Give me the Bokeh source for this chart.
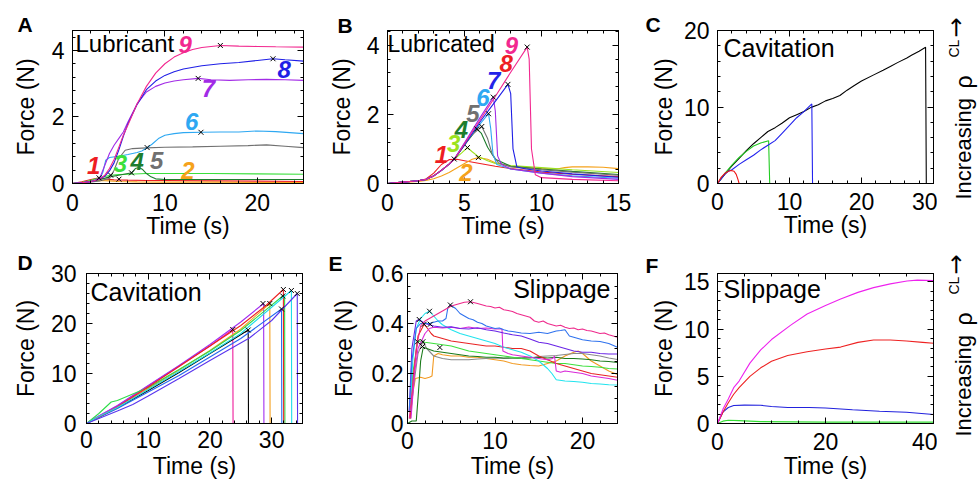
import math
import numpy as np
from bokeh.plotting import figure
from bokeh.models import FixedTicker, LinearAxis, Label, CustomJSTickFormatter, Range1d
from bokeh.layouts import row, column
from bokeh.embed import file_html
from bokeh.resources import INLINE

FONT = "Liberation Sans"

# ---------------- DATA ----------------
# Panel A (Lubricant)
a1_t = [0, 1, 2, 2.87, 3.5, 4.5, 6, 8, 10, 15, 20, 25]
a1_f = [0, 0.05, 0.12, 0.17, 0.14, 0.11, 0.10, 0.09, 0.09, 0.08, 0.07, 0.06]
a2_t = [0, 1, 2, 3, 4, 5, 7, 10, 15, 20, 25]
a2_f = [0, 0.03, 0.07, 0.09, 0.08, 0.06, 0.05, 0.04, 0.04, 0.03, 0.03]
a3_t = [0, 1, 2, 3, 4.1, 5, 6, 8, 10, 15, 20, 25]
a3_f = [0, 0.03, 0.10, 0.18, 0.25, 0.27, 0.28, 0.30, 0.30, 0.30, 0.29, 0.28]
a4_t = [0, 1, 2, 3, 4, 5, 6, 6.4, 6.8, 7.2, 7.6, 8, 8.5, 9, 10, 15, 20, 25]
a4_f = [0, 0.02, 0.06, 0.12, 0.20, 0.25, 0.30, 0.32, 0.45, 0.48, 0.42, 0.30, 0.20, 0.14, 0.12, 0.12, 0.12, 0.12]
a5_t = [0, 1, 2, 3, 4, 4.5, 5, 5.7, 6.5, 8, 10, 13, 16, 19, 21, 23, 25]
a5_f = [0, 0.02, 0.05, 0.08, 0.15, 0.40, 0.75, 1.00, 1.05, 1.07, 1.09, 1.10, 1.12, 1.14, 1.16, 1.12, 1.08]
a6_t = [0, 1, 2, 3, 3.3, 3.6, 4, 5, 6, 7, 7.5, 8.1, 8.6, 9.3, 10, 11, 12, 14, 16, 18, 20, 22, 25]
a6_f = [0, 0.02, 0.06, 0.15, 0.35, 0.70, 0.78, 0.82, 0.87, 0.93, 0.98, 1.08, 1.18, 1.35, 1.45, 1.50, 1.53, 1.54, 1.55, 1.55, 1.58, 1.56, 1.50]
a7_t = [0, 1, 2, 2.5, 3, 3.5, 4, 4.5, 5, 5.5, 6, 7, 8, 9, 10, 11, 12, 13.6, 15, 17, 19, 21, 23, 25]
a7_f = [0, 0.02, 0.06, 0.10, 0.20, 0.55, 0.90, 1.15, 1.35, 1.55, 1.85, 2.40, 2.75, 2.92, 3.02, 3.08, 3.12, 3.16, 3.12, 3.10, 3.12, 3.13, 3.12, 3.10]
a8_t = [0, 1, 2, 2.5, 3, 3.5, 4, 4.5, 5, 5.5, 6, 7, 8, 9, 10, 11, 12, 14, 16, 18, 20, 21.7, 23, 25]
a8_f = [0, 0.02, 0.06, 0.10, 0.14, 0.22, 0.38, 0.62, 1.00, 1.42, 1.80, 2.38, 2.82, 3.08, 3.25, 3.36, 3.44, 3.54, 3.60, 3.64, 3.70, 3.75, 3.72, 3.68]
a9_t = [0, 1, 2, 2.5, 3, 3.5, 4, 4.5, 5, 5.5, 6, 7, 8, 9, 10, 11, 12, 13, 14, 16, 18, 20, 22, 25]
a9_f = [0, 0.02, 0.06, 0.10, 0.15, 0.25, 0.45, 0.72, 1.08, 1.45, 1.76, 2.40, 2.92, 3.32, 3.60, 3.80, 3.93, 4.03, 4.09, 4.15, 4.13, 4.12, 4.11, 4.10]
a_mark_t = [16.0, 21.7, 13.6, 13.9, 8.08, 2.87, 4.13, 5.03, 6.39]
a_mark_f = [4.15, 3.75, 3.16, 1.54, 1.08, 0.17, 0.25, 0.13, 0.32]

# Panel B (Lubricated)
b1_t = [0, 1, 2, 2.5, 3, 3.5, 4, 4.5, 5, 6, 7, 8, 10, 12, 15]
b1_f = [0, 0.04, 0.08, 0.13, 0.30, 0.55, 0.69, 0.70, 0.66, 0.58, 0.50, 0.43, 0.33, 0.27, 0.20]
b2_t = [0, 1, 2, 2.5, 3, 3.5, 4, 4.5, 5, 5.5, 5.9, 6.5, 7, 8, 9, 10, 11, 11.5, 12, 13, 14, 15]
b2_f = [0, 0.03, 0.06, 0.09, 0.14, 0.22, 0.32, 0.45, 0.58, 0.70, 0.75, 0.70, 0.60, 0.50, 0.46, 0.43, 0.42, 0.46, 0.48, 0.48, 0.47, 0.43]
b3_t = [0, 1, 2, 2.5, 3, 3.5, 4, 4.33, 4.8, 5.19, 5.5, 5.9, 6.5, 7, 8, 10, 12, 15]
b3_f = [0, 0.04, 0.08, 0.12, 0.22, 0.38, 0.56, 0.70, 0.88, 1.04, 0.92, 0.78, 0.66, 0.58, 0.52, 0.46, 0.40, 0.32]
b4_t = [0, 1, 2, 2.5, 3, 3.5, 4, 4.33, 5, 5.5, 5.8, 6.1, 6.5, 7, 8, 10, 12, 15]
b4_f = [0, 0.04, 0.08, 0.12, 0.22, 0.38, 0.56, 0.70, 1.12, 1.40, 1.58, 1.45, 1.05, 0.70, 0.50, 0.42, 0.35, 0.26]
b5_t = [0, 1, 2, 2.5, 3, 3.5, 4, 4.33, 5, 5.5, 6.12, 6.5, 6.8, 7.2, 8, 10, 12, 15]
b5_f = [0, 0.04, 0.08, 0.12, 0.22, 0.38, 0.56, 0.70, 1.12, 1.42, 1.65, 1.30, 0.85, 0.60, 0.48, 0.40, 0.33, 0.24]
b6_t = [0, 1, 2, 2.5, 3, 3.5, 4, 4.33, 5, 6, 6.56, 6.7, 6.85, 7.1, 8, 10, 12, 15]
b6_f = [0, 0.04, 0.08, 0.12, 0.22, 0.38, 0.56, 0.70, 1.16, 1.72, 2.02, 1.60, 0.85, 0.55, 0.42, 0.30, 0.22, 0.15]
b7_t = [0, 1, 2, 2.5, 3, 3.5, 4, 4.33, 5, 6, 6.87, 7.0, 7.15, 7.4, 8, 10, 12, 15]
b7_f = [0, 0.04, 0.08, 0.12, 0.22, 0.38, 0.56, 0.70, 1.18, 1.90, 2.50, 2.10, 0.80, 0.55, 0.42, 0.30, 0.20, 0.12]
b8_t = [0, 1, 2, 2.5, 3, 3.5, 4, 4.33, 5, 6, 7, 7.82, 8.0, 8.15, 8.4, 9, 10, 12, 15]
b8_f = [0, 0.04, 0.08, 0.12, 0.22, 0.38, 0.56, 0.70, 1.12, 1.78, 2.38, 2.87, 2.60, 1.00, 0.48, 0.42, 0.36, 0.28, 0.18]
b9_t = [0, 1, 2, 2.5, 3, 3.5, 4, 4.33, 5, 6, 7, 8, 9.07, 9.2, 9.35, 9.6, 10, 12, 15]
b9_f = [0, 0.04, 0.08, 0.12, 0.22, 0.38, 0.56, 0.70, 1.15, 1.83, 2.52, 3.22, 3.95, 3.60, 1.00, 0.25, 0.17, 0.12, 0.08]
b_mark_t = [9.07, 7.82, 6.87, 6.56, 6.12, 5.80, 5.19, 5.90, 4.33]
b_mark_f = [3.95, 2.87, 2.50, 2.02, 1.65, 1.58, 1.04, 0.75, 0.71]

# Panel C (Cavitation)
c_black_t = [0, 1, 2, 3, 4, 5, 6, 7, 8, 9, 10, 11, 12, 13, 14, 15, 16, 17, 18, 19, 20, 21.7, 23, 24, 25, 26.3, 27, 28, 28.9, 29.0]
c_black_f = [0, 1.2, 2.3, 3.3, 4.3, 5.2, 6.0, 6.8, 7.3, 7.9, 8.6, 9.0, 9.4, 9.95, 10.3, 10.8, 11.1, 11.5, 12.2, 12.8, 13.4, 14.2, 14.8, 15.3, 15.8, 16.4, 16.8, 17.3, 17.8, 0]
c_blue_t = [0, 1, 1.5, 2, 3, 4, 5, 6, 7, 8, 9, 10, 11, 12, 13.1, 13.2]
c_blue_f = [0, 1.2, 1.6, 1.8, 2.5, 3.1, 3.7, 4.4, 5.0, 5.6, 6.6, 7.6, 8.6, 9.4, 10.4, 0]
c_green_t = [0, 1, 2, 3, 4, 5, 6, 7.1, 7.25]
c_green_f = [0, 1.3, 2.4, 3.4, 4.2, 4.9, 5.3, 5.6, 0]
c_red_t = [0, 0.5, 1, 1.5, 1.9, 2.3, 2.6, 2.85, 3.0]
c_red_f = [0, 0.8, 1.3, 1.6, 1.7, 1.6, 1.2, 0.5, 0]

# Panel D (Cavitation)
d_pink_t = [0, 2, 5, 10, 15, 20, 23.7, 23.75]
d_pink_f = [0, 1.5, 3.5, 7.5, 11.5, 15.5, 18.8, 0]
d_black_t = [0, 2, 5, 10, 15, 20, 24, 26.2, 26.25]
d_black_f = [0, 1.3, 3.1, 6.6, 10.2, 14.0, 17.0, 18.7, 0]
d_purple_t = [0, 2, 5, 10, 15, 20, 25, 28.7, 28.75]
d_purple_f = [0, 1.5, 3.6, 7.6, 11.6, 15.8, 20.3, 24.0, 0]
d_orange_t = [0, 2, 5, 10, 15, 20, 25, 29.7, 29.75]
d_orange_f = [0, 1.3, 3.2, 7.0, 10.7, 14.6, 18.9, 24.0, 0]
d_blue_t = [0, 2, 5, 10, 15, 20, 25, 31.6, 31.65]
d_blue_f = [0, 1.2, 3.0, 6.3, 9.6, 13.3, 17.0, 22.9, 0]
d_green_t = [0, 2, 4, 5, 10, 15, 20, 25, 31.8, 32.1, 32.15]
d_green_f = [0, 2.0, 4.3, 4.6, 7.2, 10.8, 14.5, 18.6, 25.5, 25.6, 0]
d_red_t = [0, 2, 5, 10, 15, 20, 25, 29, 31.9, 31.95]
d_red_f = [0, 1.3, 3.3, 7.3, 11.4, 15.5, 19.6, 23.5, 26.8, 0]
d_cyan_t = [0, 2, 5, 10, 15, 20, 25, 33.2, 33.25]
d_cyan_f = [0, 1.4, 3.2, 6.8, 10.4, 14.1, 18.0, 26.6, 0]
d_slate_t = [0, 2, 5, 7.5, 10, 15, 20, 26.4, 30, 34.15, 34.2]
d_slate_f = [0, 1.0, 2.5, 3.8, 5.5, 9.0, 12.6, 17.1, 20.6, 26.0, 0]
d_mark_t = [23.7, 26.2, 28.6, 29.7, 31.6, 31.8, 31.9, 33.2, 34.15]
d_mark_f = [18.8, 18.7, 24.0, 24.0, 22.9, 25.5, 26.8, 26.6, 26.0]

# Panel E (Slippage)
e_pink_t = [0.2, 0.6, 1.0, 1.5, 2.0, 2.5, 3, 3.5, 4, 4.5, 5, 5.5, 6, 6.5, 7.2, 8, 8.5, 9, 9.5, 10, 10.5, 11, 11.5, 12, 12.5, 13, 13.5, 14, 14.5, 15, 15.5, 16, 16.5, 17, 17.5, 18, 18.5, 19, 19.5, 20, 20.5, 21, 21.5, 22, 22.5, 23, 23.5, 24]
e_pink_f = [0.02, 0.15, 0.30, 0.39, 0.41, 0.42, 0.43, 0.44, 0.45, 0.46, 0.47, 0.475, 0.48, 0.485, 0.487, 0.48, 0.475, 0.47, 0.468, 0.462, 0.465, 0.455, 0.452, 0.448, 0.44, 0.435, 0.43, 0.425, 0.41, 0.405, 0.41, 0.40, 0.395, 0.39, 0.393, 0.385, 0.38, 0.382, 0.375, 0.378, 0.372, 0.37, 0.365, 0.36, 0.362, 0.355, 0.35, 0.345]
e_blue_t = [0.2, 0.5, 1, 1.5, 2, 2.5, 3, 3.5, 4, 4.4, 4.6, 4.9, 5.5, 6, 6.5, 7, 7.5, 8, 8.5, 9, 9.5, 10, 10.5, 11, 11.5, 12, 13, 14, 15, 16, 17, 17.5, 18, 18.5, 19, 19.5, 20, 21, 22, 23, 24]
e_blue_f = [0.05, 0.25, 0.38, 0.40, 0.40, 0.40, 0.405, 0.41, 0.41, 0.42, 0.46, 0.474, 0.46, 0.44, 0.43, 0.42, 0.415, 0.405, 0.40, 0.39, 0.385, 0.38, 0.382, 0.375, 0.37, 0.368, 0.362, 0.36, 0.365, 0.36, 0.37, 0.372, 0.375, 0.35, 0.345, 0.34, 0.335, 0.33, 0.328, 0.32, 0.305]
e_violet_t = [0.2, 0.5, 1, 1.3, 2, 3, 4, 5, 6, 7, 8, 9, 10, 11, 12, 13, 14, 15, 16, 17, 18, 19, 20, 21, 22, 23, 24]
e_violet_f = [0.05, 0.30, 0.41, 0.416, 0.40, 0.39, 0.385, 0.387, 0.38, 0.378, 0.383, 0.375, 0.37, 0.362, 0.355, 0.35, 0.338, 0.325, 0.32, 0.31, 0.30, 0.29, 0.285, 0.285, 0.28, 0.278, 0.278]
e_mag_t = [0.4, 0.8, 1.2, 1.6, 2, 2.5, 3, 4, 5, 6, 7, 8, 9, 10, 10.8, 10.9, 11.5, 12, 13, 14, 15, 16, 16.6, 16.8, 17.0, 17.5, 18, 19, 20, 21, 22, 23, 24]
e_mag_f = [0.02, 0.20, 0.30, 0.33, 0.36, 0.38, 0.385, 0.382, 0.385, 0.38, 0.386, 0.38, 0.382, 0.378, 0.378, 0.29, 0.28, 0.275, 0.27, 0.265, 0.26, 0.255, 0.26, 0.27, 0.21, 0.205, 0.21, 0.205, 0.20, 0.19, 0.185, 0.18, 0.173]
e_cyan_t = [0.3, 0.6, 1, 1.5, 2, 2.5, 3, 3.5, 4, 5, 6, 7, 8, 9, 10, 11, 12, 13, 14, 15, 15.5, 16, 16.5, 17, 18, 19, 20, 21, 22, 23, 24]
e_cyan_f = [0.05, 0.25, 0.38, 0.42, 0.44, 0.449, 0.43, 0.41, 0.395, 0.375, 0.36, 0.35, 0.34, 0.33, 0.32, 0.305, 0.295, 0.285, 0.27, 0.25, 0.235, 0.22, 0.20, 0.175, 0.17, 0.168, 0.165, 0.16, 0.158, 0.155, 0.154]
e_red_t = [0.3, 0.7, 1.2, 1.9, 2.3, 2.7, 3, 3.5, 4, 5, 6, 7, 8, 9, 10, 11, 12, 13, 14, 15, 16, 17, 18, 19, 20, 21, 22, 23, 24]
e_red_f = [0.02, 0.20, 0.35, 0.397, 0.38, 0.36, 0.35, 0.345, 0.34, 0.33, 0.325, 0.32, 0.315, 0.31, 0.31, 0.305, 0.30, 0.30, 0.29, 0.27, 0.255, 0.24, 0.23, 0.22, 0.21, 0.20, 0.195, 0.19, 0.185]
e_green_t = [0.3, 0.6, 1.15, 1.5, 2, 3, 4, 5, 6, 7, 8, 9, 10, 11, 12, 13, 14, 15, 16, 17, 18, 19, 20, 21, 22, 23, 24]
e_green_f = [0.02, 0.20, 0.327, 0.33, 0.325, 0.32, 0.315, 0.31, 0.30, 0.29, 0.285, 0.28, 0.275, 0.27, 0.265, 0.26, 0.255, 0.25, 0.245, 0.24, 0.24, 0.235, 0.23, 0.228, 0.225, 0.22, 0.218]
e_dgreen_t = [0, 0.5, 1.0, 1.2, 1.5, 1.8, 2.2, 3, 4, 5, 6, 7, 8, 9, 10, 11, 12, 13, 14, 15, 16, 17, 18, 19, 20, 21, 22, 23, 24]
e_dgreen_f = [0, 0.01, 0.01, 0.10, 0.25, 0.305, 0.30, 0.29, 0.285, 0.28, 0.275, 0.27, 0.268, 0.265, 0.265, 0.262, 0.262, 0.26, 0.263, 0.265, 0.262, 0.265, 0.26, 0.26, 0.258, 0.255, 0.25, 0.248, 0.244]
e_gray_t = [0.3, 0.7, 1.2, 1.76, 2.2, 3, 4, 5, 6, 7, 8, 9, 10, 11, 12, 13, 14, 15, 16, 17, 18, 19, 20, 21, 22, 23, 24]
e_gray_f = [0.02, 0.15, 0.28, 0.327, 0.30, 0.27, 0.26, 0.255, 0.255, 0.255, 0.258, 0.26, 0.262, 0.26, 0.262, 0.265, 0.262, 0.268, 0.27, 0.272, 0.276, 0.28, 0.28, 0.275, 0.27, 0.262, 0.256]
e_orange_t = [0.3, 0.6, 0.9, 1.5, 2, 2.5, 2.8, 3.0, 3.5, 4, 5, 6, 7, 8, 9, 10, 11, 12, 13, 14, 15, 16, 17, 18, 19, 19.5, 20, 21, 22, 23, 24]
e_orange_f = [0.02, 0.12, 0.18, 0.185, 0.18, 0.185, 0.19, 0.27, 0.28, 0.275, 0.27, 0.27, 0.265, 0.265, 0.26, 0.255, 0.25, 0.24, 0.235, 0.232, 0.23, 0.24, 0.25, 0.27, 0.285, 0.29, 0.28, 0.25, 0.23, 0.21, 0.196]
e_mark_t = [1.34, 2.52, 1.9, 2.6, 1.15, 1.76, 1.72, 3.7, 4.9, 7.2]
e_mark_f = [0.416, 0.449, 0.397, 0.397, 0.327, 0.327, 0.308, 0.304, 0.474, 0.487]

# Panel F (Slippage)
f_mag_t = [0, 1, 2, 3, 4, 6, 8, 10, 13.5, 16.6, 20, 22.8, 26, 28.9, 32, 35.1, 37, 40]
f_mag_f = [0, 1.5, 2.6, 3.8, 4.5, 6.4, 7.8, 8.9, 10.4, 11.6, 12.5, 13.2, 13.9, 14.4, 14.8, 15.1, 15.2, 15.15]
f_red_t = [0, 1, 2, 3, 4, 6, 8, 10, 13, 16.6, 20, 22.8, 26, 28.9, 32, 35, 38, 40]
f_red_f = [0, 1.2, 2.2, 3.1, 3.8, 5.0, 5.9, 6.6, 7.2, 7.6, 7.9, 8.1, 8.6, 8.85, 8.85, 8.75, 8.6, 8.5]
f_blue_t = [0, 1, 2, 3, 5, 8, 10, 13, 17, 20, 25, 30, 35, 40]
f_blue_f = [0, 1.2, 1.7, 1.9, 1.95, 1.93, 1.8, 1.7, 1.7, 1.65, 1.45, 1.3, 1.2, 0.95]
f_green_t = [0, 1, 2, 4, 8, 20, 40]
f_green_f = [0, 0.25, 0.35, 0.30, 0.20, 0.15, 0.15]

# Curve labels (number, position)
a_lab_txt = ["1", "2", "3", "4", "5", "6", "7", "8", "9"]
a_lab_x = [2.3, 12.5, 5.2, 7.0, 9.1, 12.9, 14.7, 22.9, 12.2]
a_lab_y = [0.53, 0.38, 0.59, 0.65, 0.68, 1.85, 2.85, 3.44, 4.18]
b_lab_txt = ["1", "2", "3", "4", "5", "6", "7", "8", "9"]
b_lab_x = [3.5, 5.1, 4.3, 4.8, 5.55, 6.2, 6.9, 7.7, 8.05]
b_lab_y = [0.85, 0.33, 1.17, 1.55, 2.03, 2.49, 2.97, 3.47, 4.0]

# side caption pieces: text, font, size, picture x (middle), picture y (start, text reads upward)
side_txt = ["Increasing", "\u03c1", "CL", "\u2192"]
side_font = ["Liberation Sans", "Liberation Sans", "Liberation Sans", "DejaVu Sans"]
side_size = ["22px", "23px", "14px", "24px"]
side_x = [963, 963, 953, 955]
side_y = [199, 88, 57, 37]
side_dy = [0, 237]

# ---------------- STYLE / LAYOUT ----------------
RED = "#EE1D23"; ORANGE = "#F5A21B"; GREEN = "#3BE03B"; YGREEN = "#9BE31E"
DGREEN = "#1D7D2D"; GRAY = "#707070"; LBLUE = "#2EA8F2"; PURPLE = "#A22BE6"
BLUE = "#1F1FE6"; PINK = "#F2288F"

A_COL = [RED, ORANGE, GREEN, DGREEN, GRAY, LBLUE, PURPLE, BLUE, PINK]
B_COL = [RED, ORANGE, YGREEN, DGREEN, GRAY, LBLUE, PURPLE, BLUE, PINK]
A_LABCOL = [RED, ORANGE, GREEN, DGREEN, GRAY, LBLUE, PURPLE, BLUE, PINK]
B_LABCOL = [RED, ORANGE, YGREEN, DGREEN, GRAY, LBLUE, "#2323E8", RED, PINK]

SIDE_X0 = 937   # left edge of the caption strip
TOTAL_W = 978
TOTAL_H = 485

# geometry: page origin, figure size, frame offsets/size, ranges, standoffs, letter placement
G = {
    "A": dict(ox=0, oy=0, w=320, h=248, l=72, t=30, fw=231, fh=155, xr=(0, 25), yr=(0, 4.6),
              xt=[0, 10, 20], xm=2, yt=[0, 2, 4], ym=0.4, xls=10, xas=-1, yls=8, yas=10,
              lo=-55, ls=-11),
    "B": dict(ox=320, oy=0, w=320, h=248, l=67, t=29, fw=231, fh=156, xr=(0, 15), yr=(0, 4.43),
              xt=[0, 5, 10, 15], xm=1, yt=[0, 2, 4], ym=0.4, xls=10, xas=-1, yls=8, yas=9,
              lo=-50, ls=-13),
    "C": dict(ox=640, oy=0, w=SIDE_X0 - 640, h=248, l=77, t=30, fw=216, fh=153, xr=(0, 30), yr=(0, 20),
              xt=[0, 10, 20, 30], xm=2, yt=[0, 10, 20], ym=2, xls=9, xas=-1, yls=8, yas=4,
              lo=-72, ls=-11),
    "D": dict(ox=0, oy=248, w=320, h=237, l=86, t=25, fw=216, fh=155, xr=(0, 35), yr=(0, 30),
              xt=[0, 10, 20, 30], xm=2, yt=[0, 10, 20, 30], ym=2, xls=7, xas=2, yls=10, yas=9,
              lo=-69, ls=0),
    "E": dict(ox=320, oy=248, w=320, h=237, l=87, t=24, fw=210, fh=156, xr=(0, 24), yr=(0, 0.6),
              xt=[0, 10, 20], xm=2, yt=[0, 0.2, 0.4, 0.6], ym=0.05, xls=8, xas=1, yls=4, yas=12,
              lo=-79, ls=-2),
    "F": dict(ox=640, oy=248, w=SIDE_X0 - 640, h=237, l=77, t=23, fw=216, fh=152, xr=(0, 40), yr=(0, 15.9),
              xt=[0, 20, 40], xm=5, yt=[0, 5, 10, 15], ym=1, xls=9, xas=0, yls=8, yas=4,
              lo=-72, ls=-7),
}


def pg(g, px, py):
    """picture pixel -> data coordinates of panel g (for text placement)"""
    fl = g["ox"] + g["l"]; ft = g["oy"] + g["t"]
    x0, x1 = g["xr"]; y0, y1 = g["yr"]
    return (x0 + (px - fl) / g["fw"] * (x1 - x0), y0 + (ft + g["fh"] - py) / g["fh"] * (y1 - y0))


def style_axis(ax, ticks, step, lo, hi, show):
    minor = [float(v) for v in np.arange(lo, hi + 1e-9, step)]
    ax.ticker = FixedTicker(ticks=ticks, minor_ticks=minor)
    ax.major_tick_in = 6; ax.major_tick_out = 0
    ax.minor_tick_in = 3; ax.minor_tick_out = 0
    ax.axis_line_color = "black"; ax.major_tick_line_color = "black"; ax.minor_tick_line_color = "black"
    ax.axis_label_text_font = FONT
    ax.axis_label_text_font_size = "23px"
    ax.axis_label_text_font_style = "normal"
    ax.axis_label_text_color = "black"
    if show:
        ax.formatter = CustomJSTickFormatter(code="return String(tick)")
        ax.major_label_text_font = FONT
        ax.major_label_text_font_size = "23px"
        ax.major_label_text_color = "black"
    else:
        ax.formatter = CustomJSTickFormatter(code="return ''")
        ax.major_label_text_font_size = "0px"
        ax.major_label_standoff = 0


def mkfig(key):
    g = G[key]
    p = figure(width=g["w"], height=g["h"], x_range=Range1d(*g["xr"]), y_range=Range1d(*g["yr"]),
               output_backend="svg", toolbar_location=None,
               min_border_left=g["l"], min_border_top=g["t"],
               min_border_right=g["w"] - g["l"] - g["fw"], min_border_bottom=g["h"] - g["t"] - g["fh"])
    p.grid.visible = False
    p.outline_line_color = "black"
    p.outline_line_width = 1
    p.background_fill_color = "white"
    p.border_fill_color = "white"
    xa = p.xaxis[0]; ya = p.yaxis[0]
    style_axis(xa, g["xt"], g["xm"], g["xr"][0], g["xr"][1], True)
    style_axis(ya, g["yt"], g["ym"], g["yr"][0], g["yr"][1], True)
    xa.axis_label = "Time (s)"; ya.axis_label = "Force (N)"
    xa.major_label_standoff = g["xls"]; xa.axis_label_standoff = g["xas"]
    ya.major_label_standoff = g["yls"]; ya.axis_label_standoff = g["yas"]
    top = LinearAxis(); right = LinearAxis()
    style_axis(top, g["xt"], g["xm"], g["xr"][0], g["xr"][1], False)
    style_axis(right, g["yt"], g["ym"], g["yr"][0], g["yr"][1], False)
    p.add_layout(top, "above"); p.add_layout(right, "right")
    # panel letter as the figure title
    p.title.text = key
    p.title.text_font = FONT
    p.title.text_font_size = "21px"
    p.title.text_font_style = "bold"
    p.title.text_color = "black"
    p.title.align = "left"
    p.title.offset = g["lo"]
    p.title.standoff = g["ls"]
    p.title.vertical_align = "bottom"
    return p, g


def add_text(p, g, px, py, text, align="left", size="25px"):
    x, y = pg(g, px, py)
    p.add_layout(Label(x=x, y=y, text=text, text_font=FONT, text_font_size=size, text_color="black",
                       text_align=align, text_baseline="middle"))


def lines(p, ts, fs, cols):
    for t, f, c in zip(ts, fs, cols):
        p.line(t, f, line_color=c, line_width=1.1)


def marks(p, t, f):
    p.scatter(t, f, marker="x", size=7, line_color="black", line_width=1)


def numlabels(p, txt, xs, ys, cols):
    for s, x, y, c in zip(txt, xs, ys, cols):
        p.add_layout(Label(x=x, y=y, text=s, text_font=FONT, text_font_size="24px",
                           text_font_style="bold italic", text_color=c,
                           text_align="center", text_baseline="middle"))


# ---- A ----
pA, gA = mkfig("A")
lines(pA, [a1_t, a2_t, a3_t, a4_t, a5_t, a6_t, a7_t, a8_t, a9_t],
      [a1_f, a2_f, a3_f, a4_f, a5_f, a6_f, a7_f, a8_f, a9_f], A_COL)
marks(pA, a_mark_t, a_mark_f)
numlabels(pA, a_lab_txt, a_lab_x, a_lab_y, A_LABCOL)
add_text(pA, gA, 75, 43, "Lubricant", size="24px")

# ---- B ----
pB, gB = mkfig("B")
lines(pB, [b1_t, b2_t, b3_t, b4_t, b5_t, b6_t, b7_t, b8_t, b9_t],
      [b1_f, b2_f, b3_f, b4_f, b5_f, b6_f, b7_f, b8_f, b9_f], B_COL)
marks(pB, b_mark_t, b_mark_f)
numlabels(pB, b_lab_txt, b_lab_x, b_lab_y, B_LABCOL)
add_text(pB, gB, 387, 43, "Lubricated", size="23px")

# ---- C ----
pC, gC = mkfig("C")
lines(pC, [c_black_t, c_green_t, c_blue_t, c_red_t], [c_black_f, c_green_f, c_blue_f, c_red_f],
      ["black", "#22CC22", "#2222EE", "#EE1111"])
add_text(pC, gC, 723, 47, "Cavitation")

# ---- D ----
pD, gD = mkfig("D")
lines(pD, [d_pink_t, d_black_t, d_purple_t, d_orange_t, d_blue_t, d_green_t, d_red_t, d_cyan_t, d_slate_t],
      [d_pink_f, d_black_f, d_purple_f, d_orange_f, d_blue_f, d_green_f, d_red_f, d_cyan_f, d_slate_f],
      ["#EE1A9A", "black", "#A12EF0", "#F5A01E", "#2468F0", "#2EDC4A", "#EE2222", "#1EDDEA", "#5A35EE"])
marks(pD, d_mark_t, d_mark_f)
add_text(pD, gD, 90, 292, "Cavitation")

# ---- E ----
pE, gE = mkfig("E")
lines(pE, [e_orange_t, e_gray_t, e_dgreen_t, e_green_t, e_red_t, e_cyan_t, e_mag_t, e_violet_t, e_blue_t, e_pink_t],
      [e_orange_f, e_gray_f, e_dgreen_f, e_green_f, e_red_f, e_cyan_f, e_mag_f, e_violet_f, e_blue_f, e_pink_f],
      ["#F29A22", "#8A8A8A", "#1A7A1A", "#3CE03C", "#E82424", "#22E4EE", "#D92AD9", "#6A25E6", "#2F72EE", "#EE2A8C"])
marks(pE, e_mark_t, e_mark_f)
add_text(pE, gE, 610, 288, "Slippage", align="right")

# ---- F ----
pF, gF = mkfig("F")
lines(pF, [f_green_t, f_blue_t, f_red_t, f_mag_t], [f_green_f, f_blue_f, f_red_f, f_mag_f],
      ["#33DD33", "#2222DD", "#EE2222", "#EE22EE"])
add_text(pF, gF, 723, 287, "Slippage")

# ---- side caption strip ("Increasing rho^CL ->", once per row) ----
pS = figure(width=TOTAL_W - SIDE_X0, height=TOTAL_H, x_range=Range1d(SIDE_X0, TOTAL_W),
            y_range=Range1d(TOTAL_H, 0), output_backend="svg", toolbar_location=None,
            x_axis_location=None, y_axis_location=None,
            min_border_left=0, min_border_right=0, min_border_top=0, min_border_bottom=0)
pS.grid.visible = False
pS.outline_line_color = None
pS.background_fill_color = "white"
pS.border_fill_color = "white"
for dy in side_dy:
    for txt, fnt, sz, sx, sy in zip(side_txt, side_font, side_size, side_x, side_y):
        pS.add_layout(Label(x=sx, y=sy + dy, text=txt, text_font=fnt, text_font_size=sz,
                            text_color="black", angle=math.pi / 2, text_align="left",
                            text_baseline="middle"))

grid = column(row(pA, pB, pC, spacing=0), row(pD, pE, pF, spacing=0), spacing=0)
layout = row(grid, pS, spacing=0)
open("out.html", "w").write(file_html(layout, INLINE))
